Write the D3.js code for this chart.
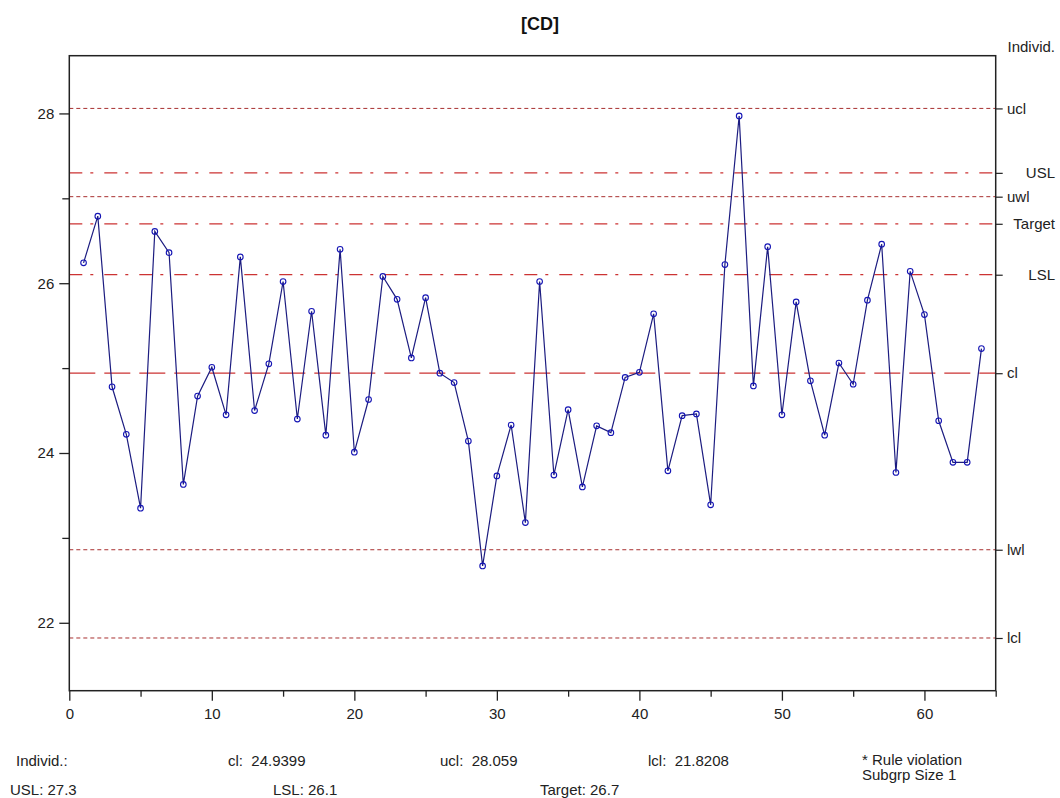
<!DOCTYPE html>
<html>
<head>
<meta charset="utf-8">
<script src="https://cdn.jsdelivr.net/npm/d3@7"></script>
<style>
  html, body { margin: 0; padding: 0; background: #fff; }
  svg { display: block; font-family: "Liberation Sans", Arial, sans-serif; }
</style>
</head>
<body>
<svg id="chart" width="1060" height="798"></svg>
<script>
// ---- data ----
const chartTitle = "[CD]";
const sampleIndex = d3.range(1, 65);
const individValues = [
  26.24, 26.79, 24.78, 24.22, 23.35, 26.61, 26.36, 23.63, 24.67, 25.01,
  24.45, 26.31, 24.50, 25.05, 26.02, 24.40, 25.67, 24.21, 26.40, 24.01,
  24.63, 26.08, 25.81, 25.12, 25.83, 24.94, 24.83, 24.14, 22.67, 23.73,
  24.33, 23.18, 26.02, 23.74, 24.51, 23.60, 24.32, 24.24, 24.89, 24.95,
  25.64, 23.79, 24.44, 24.46, 23.39, 26.22, 27.97, 24.79, 26.43, 24.45,
  25.78, 24.85, 24.21, 25.06, 24.81, 25.80, 26.46, 23.77, 26.14, 25.63,
  24.38, 23.89, 23.89, 25.23
];
const limitNames  = ["ucl", "USL", "uwl", "Target", "LSL", "cl", "lwl", "lcl"];
const limitValues = [28.059, 27.3, 27.0193, 26.7, 26.1, 24.9399, 22.8605, 21.8208];
const limitKinds  = ["ctl", "spec", "ctl", "spec", "spec", "center", "ctl", "ctl"];
const yMajorTicks = [22, 24, 26, 28];
const yMinorTicks = [23, 25, 27];
const xMajorTicks = [0, 10, 20, 30, 40, 50, 60];
const xMinorTicks = [5, 15, 25, 35, 45, 55, 65];
const footerRow1 = ["Individ.:", "cl:  24.9399", "ucl:  28.059", "lcl:  21.8208"];
const footerRow2 = ["USL: 27.3", "LSL: 26.1", "Target: 26.7"];
const noteLines  = ["* Rule violation", "Subgrp Size 1"];

// ---- layout ----
const svg = d3.select("#chart");
const L = 69.3, R = 995.7, T = 55.7, B = 690.7;
const x = d3.scaleLinear().domain([0, 65]).range([L, R]);
const y = d3.scaleLinear().domain([21.2, 28.68]).range([B, T]);
const axisColor = "#222";
const fontSize = 15;

// title
svg.append("text").attr("x", 540).attr("y", 30)
  .attr("text-anchor", "middle").attr("font-weight", "bold")
  .attr("font-size", 18).attr("fill", "#111").text(chartTitle);

// limit lines
const dashFor = { ctl: "4,3", spec: "13,8,3,11", center: "26,9" };
const limits = limitNames.map((n, i) => ({ name: n, value: limitValues[i], kind: limitKinds[i] }));
svg.append("g").selectAll("line").data(limits).join("line")
  .attr("x1", L).attr("x2", R)
  .attr("y1", d => y(d.value)).attr("y2", d => y(d.value))
  .attr("stroke", d => d.kind === "ctl" ? "#a83030" : "#cc3333")
  .attr("stroke-width", d => d.kind === "ctl" ? 1 : 1.3)
  .attr("stroke-dasharray", d => dashFor[d.kind]);

// data line
const pts = sampleIndex.map((s, i) => ({ s, v: individValues[i] }));
svg.append("path").datum(pts)
  .attr("fill", "none").attr("stroke", "#1c1c80").attr("stroke-width", 1.2)
  .attr("d", d3.line().x(d => x(d.s)).y(d => y(d.v)));
svg.append("g").selectAll("circle").data(pts).join("circle")
  .attr("cx", d => x(d.s)).attr("cy", d => y(d.v)).attr("r", 2.8)
  .attr("fill", "none").attr("stroke", "#1414b4").attr("stroke-width", 1.1);

// frame
svg.append("rect").attr("x", L).attr("y", T).attr("width", R - L).attr("height", B - T)
  .attr("fill", "none").attr("stroke", axisColor).attr("stroke-width", 1.5);

// left axis
const leftAxis = d3.axisLeft(y).tickValues(yMajorTicks).tickSize(10).tickPadding(5).tickFormat(d3.format("d"));
const gl = svg.append("g").attr("transform", `translate(${L},0)`).call(leftAxis);
gl.select(".domain").remove();
gl.selectAll("line").attr("stroke", axisColor).attr("stroke-width", 1.3);
gl.selectAll("text").attr("font-size", fontSize).attr("fill", "#222").attr("font-family", "Liberation Sans, Arial, sans-serif");
const glm = svg.append("g").attr("transform", `translate(${L},0)`)
  .call(d3.axisLeft(y).tickValues(yMinorTicks).tickSize(7).tickFormat(""));
glm.select(".domain").remove();
glm.selectAll("line").attr("stroke", axisColor).attr("stroke-width", 1.3);

// bottom axis
const bottomAxis = d3.axisBottom(x).tickValues(xMajorTicks).tickSize(10).tickPadding(8).tickFormat(d3.format("d"));
const gb = svg.append("g").attr("transform", `translate(0,${B})`).call(bottomAxis);
gb.select(".domain").remove();
gb.selectAll("line").attr("stroke", axisColor).attr("stroke-width", 1.3);
gb.selectAll("text").attr("font-size", fontSize).attr("fill", "#222").attr("font-family", "Liberation Sans, Arial, sans-serif");
const gbm = svg.append("g").attr("transform", `translate(0,${B})`)
  .call(d3.axisBottom(x).tickValues(xMinorTicks).tickSize(6).tickFormat(""));
gbm.select(".domain").remove();
gbm.selectAll("line").attr("stroke", axisColor).attr("stroke-width", 1.3);

// right axis with limit labels
const rightAxis = d3.axisRight(y).tickValues(limitValues).tickSize(7).tickFormat("");
const gr = svg.append("g").attr("transform", `translate(${R},0)`).call(rightAxis);
gr.select(".domain").remove();
gr.selectAll("line").attr("stroke", axisColor).attr("stroke-width", 1.2);
svg.append("g").selectAll("text").data(limits).join("text")
  .attr("x", d => d.kind === "spec" ? 1055 : 1007)
  .attr("text-anchor", d => d.kind === "spec" ? "end" : "start")
  .attr("y", d => y(d.value)).attr("dy", "0.35em")
  .attr("font-size", fontSize).attr("fill", "#222").text(d => d.name);
svg.append("text").attr("x", 1055).attr("y", 47).attr("dy", "0.35em")
  .attr("text-anchor", "end").attr("font-size", fontSize).attr("fill", "#222").text("Individ.");

// footer
const row1X = [16, 228, 440, 648];
const row2X = [10, 273, 540];
svg.append("g").selectAll("text").data(footerRow1).join("text")
  .attr("x", (d, i) => row1X[i]).attr("y", 761).attr("dy", "0.35em")
  .attr("font-size", fontSize).attr("fill", "#222").attr("xml:space", "preserve")
  .style("white-space", "pre").text(d => d);
svg.append("g").selectAll("text").data(footerRow2).join("text")
  .attr("x", (d, i) => row2X[i]).attr("y", 790).attr("dy", "0.35em")
  .attr("font-size", fontSize).attr("fill", "#222").text(d => d);
svg.append("g").selectAll("text").data(noteLines).join("text")
  .attr("x", 862).attr("y", (d, i) => 760 + i * 15).attr("dy", "0.35em")
  .attr("font-size", fontSize).attr("fill", "#222").text(d => d);
</script>
</body>
</html>
